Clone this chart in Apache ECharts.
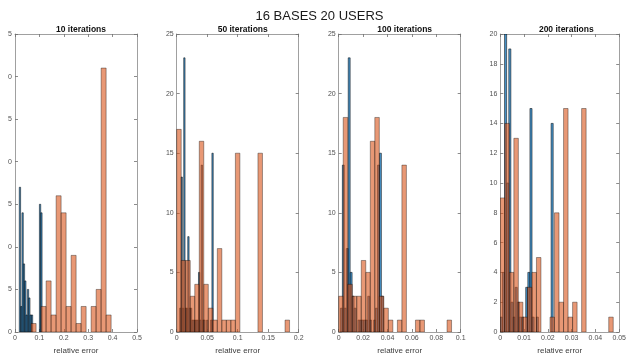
<!DOCTYPE html>
<html><head><meta charset="utf-8">
<script src="https://cdn.jsdelivr.net/npm/echarts@6/dist/echarts.min.js"></script>
<style>html,body{margin:0;padding:0;background:#fff}#c{width:629px;height:360px}</style>
</head><body><div id="c"></div>
<script>
// ---- data ----
const mainTitle = '16 BASES 20 USERS';
const panelTitles = ['10 iterations', '50 iterations', '100 iterations', '200 iterations'];
const xAxisName = 'relative error';
const xMax = [0.5, 0.2, 0.1, 0.05];
const xInterval = [0.1, 0.05, 0.02, 0.01];
const yMax = [35, 25, 25, 20];
const yInterval = [5, 5, 5, 2];

// blue histogram (narrow bins): first bin edge, bin width, counts
const blueStart = [0.0175, 0.0049, 0.0014, 0];
const blueWidth = [0.0055, 0.0022, 0.0016, 0.00089];
const blue10 = [17, 3, 14, 8, 6, 2, 5, 4, 2, 2, 0, 0, 0, 0, 0, 15, 14];
const blue50 = [2, 13, 2, 23, 2, 2, 8, 2, 2, 1, 1, 1, 1, 1, 5, 1, 14, 1, 1, 0, 1, 0, 0, 1, 15];
const blue100 = [2, 14, 2, 7, 23, 5, 3, 2, 0, 1, 1, 1, 1, 1, 3, 1, 0, 1, 2, 14, 15, 3];
const blue200 = [1, 4, 20, 10, 19, 2, 1, 3, 2, 1, 1, 0, 3, 4, 15, 1, 0, 1, 0, 0, 0, 0, 0, 0, 14];

// orange histogram (wide bins)
const orangeStart = [0.066, 0, 0, 0];
const orangeWidth = [0.0205, 0.0074, 0.0037, 0.0019];
const orange10 = [1, 0, 3, 6, 2, 16, 14, 3, 9, 1, 3, 0, 3, 5, 31, 2];
const orange50 = [17, 6, 6, 3, 4, 16, 4, 2, 1, 7, 1, 1, 1, 15, 0, 0, 0, 0, 15, 0, 0, 0, 0, 0, 1];
const orange100 = [3, 18, 4, 3, 3, 6, 5, 16, 18, 3, 2, 1, 0, 1, 14, 0, 0, 1, 1, 0, 0, 0, 0, 0, 1];
const orange200 = [9, 14, 4, 13, 2, 1, 3, 4, 5, 0, 0, 1, 8, 2, 15, 1, 2, 0, 15, 0, 0, 0, 0, 0, 1];

const blueCounts = [blue10, blue50, blue100, blue200];
const orangeCounts = [orange10, orange50, orange100, orange200];

// ---- layout ----
const gridLeft = [15, 176.7, 338.7, 500.3];
const gridTop = 34, gridW = 122, gridH = 301;
const FONT = 'Liberation Sans, Arial, Helvetica, sans-serif';
const AXIS_COLOR = '#a0a0a0';
const TICK_COLOR = '#6e6e6e';
const LABEL_COLOR = '#505050';

function makeHist(start, width, counts) {
  const out = [];
  counts.forEach((c, i) => { if (c > 0) out.push([start + i * width, start + (i + 1) * width, c]); });
  return out;
}
function histRenderer(fill, stroke, lw) {
  return function (params, api) {
    const a = api.coord([api.value(0), api.value(2)]);
    const b = api.coord([api.value(1), 0]);
    return {
      type: 'rect',
      shape: { x: a[0], y: a[1], width: b[0] - a[0], height: b[1] - a[1] },
      style: { fill: fill, stroke: stroke, lineWidth: lw }
    };
  };
}
const fmtX = v => String(+(+v).toFixed(6));
const fmtYclipped = v => String(v).slice(-1);

const grid = [], xAxis = [], yAxis = [], series = [];
const title = [{
  text: mainTitle, left: 314.5, top: 5, textAlign: 'center',
  textStyle: { fontSize: 13, fontWeight: 'normal', color: '#1a1a1a', fontFamily: FONT }
}];

for (let i = 0; i < 4; i++) {
  grid.push({ left: gridLeft[i], top: gridTop, width: gridW, height: gridH, show: false });
  title.push({
    text: panelTitles[i], left: gridLeft[i] + gridW / 2, top: 20, textAlign: 'center',
    textStyle: { fontSize: 8.5, fontWeight: 'bold', color: '#111', fontFamily: FONT }
  });
  const common = {
    gridIndex: i, type: 'value', splitLine: { show: false },
    axisLine: { show: true, onZero: false, lineStyle: { color: AXIS_COLOR, width: 1 } },
    axisTick: { show: true, inside: true, length: 3, lineStyle: { color: TICK_COLOR, width: 0.8 } }
  };
  xAxis.push(Object.assign({}, common, {
    min: 0, max: xMax[i], interval: xInterval[i], position: 'bottom',
    axisLabel: { fontSize: 7, color: LABEL_COLOR, margin: 3, formatter: fmtX, fontFamily: FONT },
    name: xAxisName, nameLocation: 'middle', nameGap: 15,
    nameTextStyle: { fontSize: 8, color: '#3c3c3c', fontFamily: FONT }
  }));
  xAxis.push(Object.assign({}, common, {
    min: 0, max: xMax[i], interval: xInterval[i], position: 'top', axisLabel: { show: false }
  }));
  yAxis.push(Object.assign({}, common, {
    min: 0, max: yMax[i], interval: yInterval[i], position: 'left',
    axisLabel: { fontSize: 7, color: LABEL_COLOR, margin: 3, fontFamily: FONT,
      formatter: i === 0 ? fmtYclipped : undefined }
  }));
  yAxis.push(Object.assign({}, common, {
    min: 0, max: yMax[i], interval: yInterval[i], position: 'right', axisLabel: { show: false }
  }));
  series.push({
    type: 'custom', xAxisIndex: 2 * i, yAxisIndex: 2 * i, clip: true,
    renderItem: histRenderer('rgba(0,104,178,0.72)', 'rgba(0,0,0,0.85)', 0.6),
    encode: { x: [0, 1], y: 2 },
    data: makeHist(blueStart[i], blueWidth[i], blueCounts[i]), silent: true
  });
  series.push({
    type: 'custom', xAxisIndex: 2 * i, yAxisIndex: 2 * i, clip: true,
    renderItem: histRenderer('rgba(217,83,25,0.6)', 'rgba(0,0,0,0.6)', 0.6),
    encode: { x: [0, 1], y: 2 },
    data: makeHist(orangeStart[i], orangeWidth[i], orangeCounts[i]), silent: true
  });
}

const chart = echarts.init(document.getElementById('c'), null, { renderer: 'canvas' });
chart.setOption({
  animation: false,
  backgroundColor: '#fff',
  textStyle: { fontFamily: FONT },
  title: title, grid: grid, xAxis: xAxis, yAxis: yAxis, series: series
});
</script>
</body></html>
